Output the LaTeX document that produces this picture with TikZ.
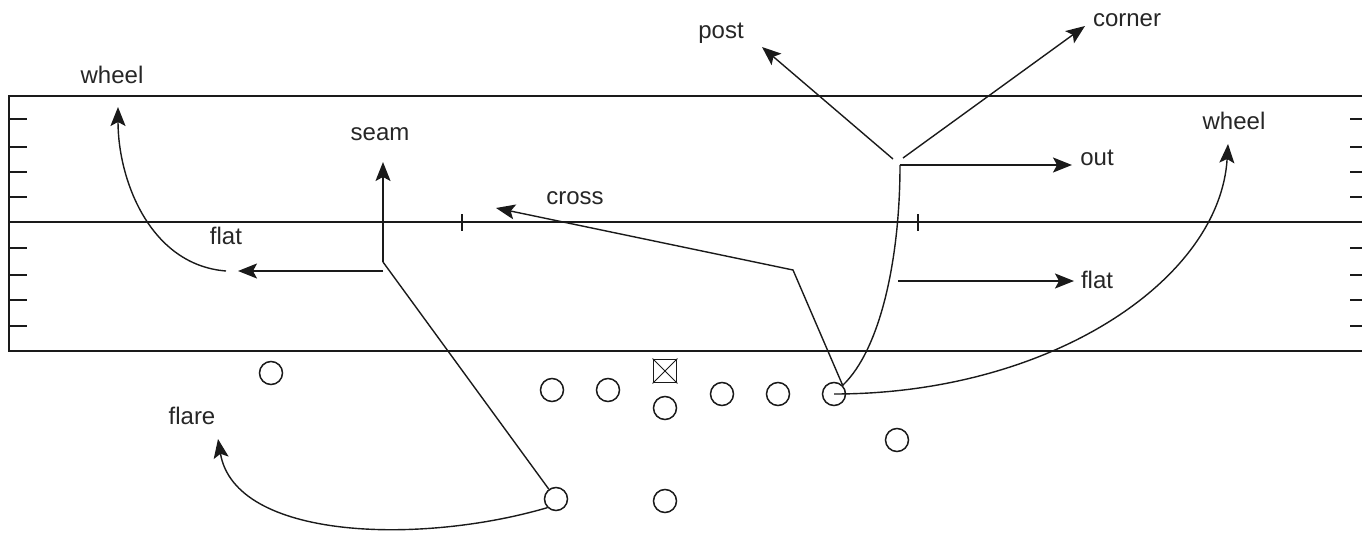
\documentclass[tikz,border=0pt]{standalone}
\usepackage{fontspec}
\setmainfont{Liberation Sans}
\usetikzlibrary{arrows.meta}
\definecolor{ink}{HTML}{1A1A1A}
\definecolor{txt}{HTML}{262626}
\tikzset{
  field/.style={line width=1.8pt, draw=ink},
  tick/.style={line width=1.6pt, draw=ink},
  player/.style={circle, draw=ink, line width=1.5pt, minimum size=23pt, inner sep=0pt},
  ballbox/.style={rectangle, draw=ink, line width=1.9pt, minimum size=23pt, inner sep=0pt},
  route/.style={line width=1.4pt, draw=ink},
  arr/.style={route, -{Stealth[length=19pt, width=15pt, inset=4pt]}},
  lbl/.style={font=\fontsize{24}{28}\selectfont, text=txt, inner sep=0pt},
}
\begin{document}
\begin{tikzpicture}[x=1pt, y=-1pt]
\useasboundingbox (0,0) rectangle (1362,535);
% field
\draw[field] (1362,96) -- (9,96) -- (9,351) -- (1362,351);
\draw[field] (9,222) -- (1362,222);
\foreach \yy in {119,147,172,197,248,275,300,326} {
  \draw[tick] (9,\yy) -- (27,\yy);
  \draw[tick] (1350,\yy) -- (1362,\yy);
}
\draw[tick] (462,214) -- (462,231);
\draw[tick] (918,214) -- (918,231);
% players
\node[player] (p1) at (271,373) {};
\node[player] (p2) at (552,390) {};
\node[player] (p3) at (608,390) {};
\node[player] (p4) at (665,408) {};
\node[player] (p5) at (722,394) {};
\node[player] (p6) at (778,394) {};
\node[player] (p7) at (834,394) {};
\node[player] (p8) at (897,440) {};
\node[player] (p9) at (556,499) {};
\node[player] (p10) at (665,501) {};
\node[ballbox] (ball) at (665,371) {};
\draw[line width=1pt, draw=ink] (ball.north west) -- (ball.south east) (ball.north east) -- (ball.south west);
% labels
\node[lbl] (lwheelL) at (112,75) {wheel};
\node[lbl] (lseam) at (380,134) {seam};
\node[lbl] (lflatL) at (226,236) {flat};
\node[lbl] (lcross) at (575,198) {cross};
\node[lbl] (lpost) at (721,33) {post};
\node[lbl] (lcorner) at (1127,20) {corner};
\node[lbl] (lout) at (1097,158) {out};
\node[lbl] (lflatR) at (1097,280) {flat};
\node[lbl] (lwheelR) at (1234,121) {wheel};
\node[lbl] (lflare) at (192,416) {flare};
% route coordinates
\coordinate (sj) at (383,262);
\coordinate (seamtip) at (383,162);
\coordinate (fs) at (383,271);
\coordinate (flattip) at (238,271);
\coordinate (ws) at (226,271);
\coordinate (wheeltipL) at (118,107);
\coordinate (cj) at (793,270);
\coordinate (crosstip) at (496,208);
\coordinate (rj) at (900,165);
\coordinate (outtip) at (1072,165);
\coordinate (pj) at (893,159);
\coordinate (posttip) at (762,47);
\coordinate (kj) at (903,158);
\coordinate (cornertip) at (1085,26);
\coordinate (frs) at (898,281);
\coordinate (flatRtip) at (1074,281);
\coordinate (wheeltipR) at (1228,144);
\coordinate (flaretip) at (218,439);
% left side routes
\draw[route] (p9) -- (sj);
\draw[arr] (sj) -- (seamtip);
\draw[arr] (fs) -- (flattip);
\draw[arr] (ws) .. controls (150,265) and (118,180) .. (wheeltipL);
\draw[arr] (p9.south west) .. controls (420,545) and (235,540) .. (flaretip);
% right side routes
\draw[arr] (p7.north east) -- (cj) -- (crosstip);
\draw[route] (p7.north east) .. controls (880,350) and (900,260) .. (rj);
\draw[arr] (rj) -- (outtip);
\draw[arr] (pj) -- (posttip);
\draw[arr] (kj) -- (cornertip);
\draw[arr] (frs) -- (flatRtip);
\draw[arr] (p7.center) .. controls (1050,394) and (1220,280) .. (wheeltipR);
\end{tikzpicture}
\end{document}
